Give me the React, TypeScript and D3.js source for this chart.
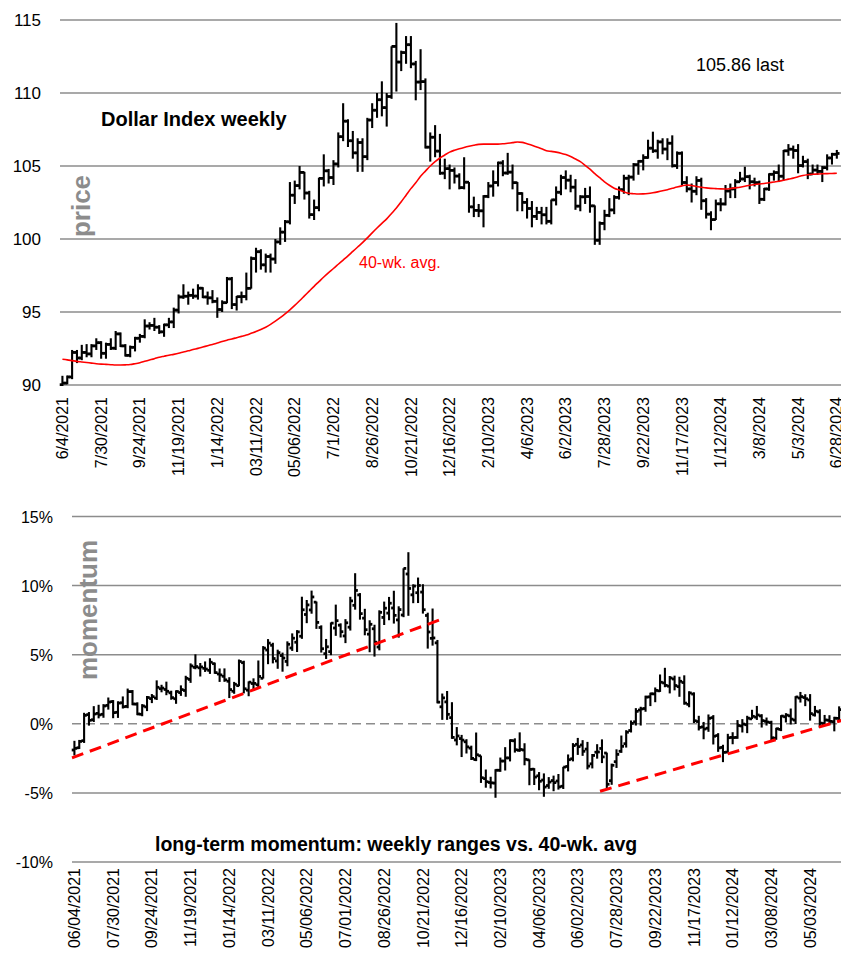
import React, { useRef, useEffect } from 'react';
import * as d3 from 'd3';

// weekly bars, 6/4/2021 .. 6/28/2024
const priceOpen = [
  90.02, 90.13, 90.55, 92.23, 91.85, 92.23, 92.13, 92.68, 92.90, 92.17,
  92.78, 92.52, 93.50, 92.68, 92.03, 92.58, 93.20, 93.33, 94.04, 94.08,
  93.96, 93.64, 94.12, 94.32, 95.13, 96.03, 96.08, 96.14, 96.09, 96.63,
  96.03, 95.97, 95.73, 95.17, 95.64, 97.27, 95.51, 96.05, 96.06, 96.62,
  98.66, 99.13, 98.23, 98.80, 98.63, 99.80, 100.47, 101.18, 103.00, 103.66,
  104.56, 103.15, 101.67, 102.15, 104.15, 104.67, 104.21, 105.14, 107.01, 108.07,
  106.73, 105.90, 106.61, 105.64, 108.15, 108.82, 109.54, 109.00, 109.76, 113.19,
  112.12, 112.77, 113.31, 111.99, 110.75, 110.78, 106.29, 106.97, 106.02, 104.51,
  104.82, 104.70, 104.31, 103.52, 103.89, 102.20, 101.96, 101.93, 102.92, 103.63,
  103.87, 105.21, 104.52, 104.58, 103.86, 103.12, 102.51, 102.09, 101.55, 101.82,
  101.66, 101.21, 102.68, 103.20, 104.21, 104.03, 103.55, 102.25, 102.89, 102.91,
  102.27, 99.91, 101.07, 101.62, 101.99, 102.85, 103.38, 104.16, 104.24, 105.09,
  105.32, 105.58, 106.22, 106.04, 106.65, 106.16, 106.56, 105.02, 105.87, 103.87,
  103.43, 103.27, 104.01, 102.62, 101.70, 101.33, 102.41, 102.40, 103.29, 103.43,
  103.92, 104.11, 104.27, 103.92, 103.86, 102.72, 103.43, 104.43, 104.55, 104.30,
  106.04, 106.15, 106.06, 105.03, 105.30, 104.45, 104.72, 104.63, 104.89, 105.55,
  105.80,
];
const priceHigh = [
  90.63, 90.65, 92.40, 92.40, 92.75, 92.80, 92.80, 93.20, 93.00, 92.90,
  93.20, 93.70, 93.60, 92.80, 92.70, 93.30, 93.50, 94.50, 94.30, 94.60,
  94.10, 94.20, 94.60, 95.30, 96.20, 96.90, 96.40, 96.60, 96.90, 96.70,
  96.40, 96.50, 96.00, 95.80, 97.40, 97.40, 96.10, 96.40, 97.70, 98.80,
  99.40, 99.30, 99.00, 99.00, 100.00, 100.80, 101.30, 103.90, 104.00, 105.00,
  104.60, 103.30, 102.70, 104.20, 105.80, 104.80, 105.40, 107.30, 109.30, 108.20,
  107.40, 106.90, 106.90, 108.30, 109.30, 110.00, 110.80, 110.00, 113.20, 114.80,
  112.90, 113.90, 113.90, 112.20, 113.00, 111.00, 107.30, 107.80, 107.20, 105.50,
  105.10, 104.90, 104.50, 105.60, 103.90, 102.90, 102.40, 103.00, 103.90, 104.70,
  105.30, 105.40, 105.90, 105.10, 103.90, 103.20, 102.80, 102.60, 102.20, 102.20,
  102.20, 102.70, 103.60, 104.40, 104.70, 104.40, 104.10, 103.00, 103.50, 103.60,
  102.30, 101.20, 102.00, 102.80, 103.00, 103.60, 104.40, 104.40, 105.20, 105.40,
  105.80, 106.80, 107.35, 106.80, 106.90, 106.90, 107.10, 106.00, 106.00, 104.30,
  103.80, 104.30, 104.20, 102.80, 101.90, 102.70, 102.80, 103.70, 103.80, 104.10,
  104.60, 104.95, 104.40, 104.20, 104.00, 103.50, 104.50, 104.70, 105.10, 106.10,
  106.50, 106.40, 106.50, 105.70, 105.50, 105.10, 105.10, 105.00, 105.80, 105.90,
  106.10,
];
const priceLow = [
  89.66, 90.05, 90.40, 91.50, 91.70, 91.90, 91.90, 92.40, 91.80, 91.80,
  92.40, 92.40, 92.60, 91.95, 91.90, 92.30, 92.90, 93.20, 93.80, 93.70,
  93.50, 93.30, 93.90, 93.90, 94.90, 95.90, 95.50, 95.90, 95.85, 95.95,
  95.50, 95.60, 94.60, 95.00, 95.60, 95.20, 95.10, 95.60, 95.80, 96.60,
  97.70, 97.90, 97.70, 97.70, 98.30, 99.60, 99.80, 101.00, 102.40, 103.40,
  102.70, 101.40, 101.30, 101.90, 103.60, 103.80, 103.70, 104.90, 106.70, 106.30,
  105.50, 104.60, 104.60, 105.40, 107.60, 108.30, 108.40, 107.70, 109.60, 110.10,
  111.50, 112.00, 111.70, 109.50, 110.20, 106.20, 105.30, 105.60, 104.40, 104.10,
  103.40, 103.80, 103.40, 103.40, 101.80, 101.50, 101.50, 100.80, 102.80, 102.90,
  103.60, 104.30, 104.40, 103.40, 101.90, 101.90, 101.40, 100.80, 101.30, 101.00,
  101.00, 101.00, 102.30, 103.00, 103.40, 103.20, 102.00, 101.90, 102.40, 101.80,
  99.60, 99.60, 100.60, 101.50, 101.70, 102.70, 103.10, 103.00, 104.00, 104.40,
  104.70, 105.50, 105.90, 105.50, 105.80, 105.40, 104.90, 104.80, 103.70, 103.20,
  102.50, 103.00, 102.00, 101.40, 100.60, 101.30, 101.90, 102.30, 102.80, 102.80,
  103.90, 103.90, 103.40, 103.60, 102.40, 102.60, 103.30, 104.00, 103.90, 104.00,
  105.70, 105.50, 104.50, 104.90, 104.10, 104.40, 104.40, 103.90, 104.70, 105.10,
  105.50,
];
const priceClose = [
  90.13, 90.55, 92.23, 91.85, 92.23, 92.13, 92.68, 92.90, 92.17, 92.78,
  92.52, 93.50, 92.68, 92.03, 92.58, 93.20, 93.33, 94.04, 94.08, 93.96,
  93.64, 94.12, 94.32, 95.13, 96.03, 96.08, 96.14, 96.09, 96.63, 96.03,
  95.97, 95.73, 95.17, 95.64, 97.27, 95.51, 96.05, 96.06, 96.62, 98.66,
  99.13, 98.23, 98.80, 98.63, 99.80, 100.47, 101.18, 103.00, 103.66, 104.56,
  103.15, 101.67, 102.15, 104.15, 104.67, 104.21, 105.14, 107.01, 108.07, 106.73,
  105.90, 106.61, 105.64, 108.15, 108.82, 109.54, 109.00, 109.76, 113.19, 112.12,
  112.77, 113.31, 111.99, 110.75, 110.78, 106.29, 106.97, 106.02, 104.51, 104.82,
  104.70, 104.31, 103.52, 103.89, 102.20, 101.96, 101.93, 102.92, 103.63, 103.87,
  105.21, 104.52, 104.58, 103.86, 103.12, 102.51, 102.09, 101.55, 101.82, 101.66,
  101.21, 102.68, 103.20, 104.21, 104.03, 103.55, 102.25, 102.89, 102.91, 102.27,
  99.91, 101.07, 101.62, 101.99, 102.85, 103.38, 104.16, 104.24, 105.09, 105.32,
  105.58, 106.22, 106.04, 106.65, 106.16, 106.56, 105.02, 105.87, 103.87, 103.43,
  103.27, 104.01, 102.62, 101.70, 101.33, 102.41, 102.40, 103.29, 103.43, 103.92,
  104.11, 104.27, 103.92, 103.86, 102.72, 103.43, 104.43, 104.55, 104.30, 106.04,
  106.15, 106.06, 105.03, 105.30, 104.45, 104.72, 104.63, 104.89, 105.55, 105.80,
  105.86,
];
// 40-week average
const avg40 = [
  91.76, 91.72, 91.67, 91.62, 91.58, 91.54, 91.50, 91.46, 91.43, 91.41,
  91.39, 91.37, 91.37, 91.38, 91.40, 91.46, 91.53, 91.62, 91.71, 91.80,
  91.90, 91.97, 92.04, 92.10, 92.17, 92.26, 92.34, 92.43, 92.51, 92.60,
  92.69, 92.78, 92.87, 92.98, 93.07, 93.15, 93.24, 93.33, 93.42, 93.54,
  93.66, 93.80, 93.96, 94.15, 94.37, 94.61, 94.87, 95.15, 95.45, 95.77,
  96.10, 96.43, 96.76, 97.08, 97.40, 97.70, 97.98, 98.27, 98.56, 98.85,
  99.15, 99.45, 99.75, 100.08, 100.42, 100.75, 101.07, 101.38, 101.75, 102.12,
  102.55, 103.00, 103.45, 103.85, 104.30, 104.65, 105.00, 105.30, 105.55, 105.75,
  105.95, 106.08, 106.18, 106.27, 106.35, 106.42, 106.48, 106.50, 106.50, 106.50,
  106.50, 106.52, 106.56, 106.60, 106.64, 106.62, 106.52, 106.42, 106.30, 106.18,
  106.05, 106.00, 105.95, 105.88, 105.78, 105.65, 105.48, 105.30, 105.05, 104.78,
  104.48, 104.20, 103.92, 103.68, 103.48, 103.35, 103.23, 103.13, 103.10, 103.08,
  103.09, 103.12, 103.17, 103.23, 103.30, 103.38, 103.47, 103.56, 103.64, 103.70,
  103.66, 103.60, 103.55, 103.50, 103.47, 103.45, 103.43, 103.42, 103.45, 103.50,
  103.55, 103.61, 103.68, 103.73, 103.77, 103.80, 103.85, 103.90, 103.95, 104.02,
  104.10, 104.17, 104.26, 104.35, 104.40, 104.43, 104.45, 104.47, 104.48, 104.49,
  104.50,
];

const topTickLabels = [
  '6/4/2021', '7/30/2021', '9/24/2021', '11/19/2021', '1/14/2022', '03/11/2022',
  '05/06/2022', '7/1/2022', '8/26/2022', '10/21/2022', '12/16/2022', '2/10/2023',
  '4/6/2023', '6/2/2023', '7/28/2023', '9/22/2023', '11/17/2023', '1/12/2024',
  '3/8/2024', '5/3/2024', '6/28/2024',
];
const bottomTickLabels = [
  '06/04/2021', '07/30/2021', '09/24/2021', '11/19/2021', '01/14/2022', '03/11/2022',
  '05/06/2022', '07/01/2022', '08/26/2022', '10/21/2022', '12/16/2022', '02/10/2023',
  '04/06/2023', '06/02/2023', '07/28/2023', '09/22/2023', '11/17/2023', '01/12/2024',
  '03/08/2024', '05/03/2024',
];
const priceTicks = [90, 95, 100, 105, 110, 115];
const momentumTicks = [-10, -5, 0, 5, 10, 15];
// hand-drawn trend lines on the momentum panel: [week index, %]
const trendLow1 = [[-0.5, -2.47], [75.5, 7.53]];
const trendLow2 = [[108.6, -4.88], [162, 0.6]];

const FONT = 'Liberation Sans, Arial, sans-serif';

const App = () => {
  const svgRef = useRef<SVGSVGElement>(null);

  useEffect(() => {
    document.body.style.margin = '0';
    const w = 841;
    const h = 953;
    const n = priceClose.length;
    const bw = 4.84;
    const svg = d3.select(svgRef.current).attr('width', w).attr('height', h);
    svg.selectAll('*').remove();

    // ---------- price panel ----------
    const x1 = d3.scaleLinear().domain([-0.5, n - 0.5]).range([60, 60 + n * bw]);
    const y1 = d3.scaleLinear().domain([90, 115]).range([385, 20]);

    const top = svg.append('g');
    top.selectAll('.grid')
      .data(priceTicks)
      .join('line')
      .attr('x1', 60).attr('x2', w)
      .attr('y1', (d) => y1(d)).attr('y2', (d) => y1(d))
      .attr('stroke', '#8c8c8c').attr('stroke-width', 1.5);
    top.selectAll('.ylab')
      .data(priceTicks)
      .join('text')
      .attr('x', 41).attr('y', (d) => y1(d) + 6)
      .attr('text-anchor', 'end')
      .style('font', `17px ${FONT}`)
      .text((d) => d);

    top.append('clipPath').attr('id', 'clipTop')
      .append('rect').attr('x', 55).attr('y', 0).attr('width', w).attr('height', 386);

    const drawBars = (g, xs, ys, o, hi, lo, c) => {
      const idx = d3.range(o.length);
      g.selectAll('.hl').data(idx).join('line')
        .attr('x1', (i) => xs(i)).attr('x2', (i) => xs(i))
        .attr('y1', (i) => ys(hi[i])).attr('y2', (i) => ys(lo[i]))
        .attr('stroke', '#000').attr('stroke-width', 2.1);
      g.selectAll('.op').data(idx).join('line')
        .attr('x1', (i) => xs(i) - 2.7).attr('x2', (i) => xs(i))
        .attr('y1', (i) => ys(o[i])).attr('y2', (i) => ys(o[i]))
        .attr('stroke', '#000').attr('stroke-width', 2.8);
      g.selectAll('.cl').data(idx).join('line')
        .attr('x1', (i) => xs(i)).attr('x2', (i) => xs(i) + 2.7)
        .attr('y1', (i) => ys(c[i])).attr('y2', (i) => ys(c[i]))
        .attr('stroke', '#000').attr('stroke-width', 2.8);
    };

    const barsTop = top.append('g').attr('clip-path', 'url(#clipTop)');
    drawBars(barsTop.append('g'), x1, y1, priceOpen, priceHigh, priceLow, priceClose);

    const avgLine = d3.line<number>().x((d, i) => x1(i)).y((d) => y1(d)).curve(d3.curveMonotoneX);
    top.append('path').datum(avg40)
      .attr('d', avgLine)
      .attr('fill', 'none').attr('stroke', '#ff0000').attr('stroke-width', 1.6);

    top.selectAll('.xlab')
      .data(topTickLabels)
      .join('text')
      .attr('transform', (d, k) => `translate(${x1(k * 8)},397) rotate(-90)`)
      .attr('dy', '0.35em')
      .attr('text-anchor', 'end')
      .style('font', `16px ${FONT}`)
      .text((d) => d);

    top.append('text').attr('x', 101).attr('y', 126)
      .style('font', `bold 20px ${FONT}`).text('Dollar Index weekly');
    top.append('text').attr('x', 696).attr('y', 71)
      .style('font', `18px ${FONT}`).text('105.86 last');
    top.append('text').attr('x', 359).attr('y', 268)
      .attr('fill', '#ff0000')
      .style('font', `16px ${FONT}`).text('40-wk. avg.');
    top.append('text')
      .attr('transform', 'translate(90,206) rotate(-90)')
      .attr('text-anchor', 'middle')
      .attr('fill', '#8c8c8c')
      .style('font', `bold 26px ${FONT}`).text('price');

    // ---------- momentum panel ----------
    const x2 = d3.scaleLinear().domain([-0.5, n - 0.5]).range([72, 72 + n * bw]);
    const y2 = d3.scaleLinear().domain([-10, 15]).range([862, 516.5]);
    const pct = (arr) => arr.map((v, i) => (v / avg40[i] - 1) * 100);

    const bot = svg.append('g');
    bot.selectAll('.grid')
      .data(momentumTicks)
      .join('line')
      .attr('x1', 72).attr('x2', w)
      .attr('y1', (d) => y2(d)).attr('y2', (d) => y2(d))
      .attr('stroke', '#8c8c8c').attr('stroke-width', 1.5)
      .attr('stroke-dasharray', (d) => (d === 0 ? '9,5' : null));
    bot.selectAll('.ylab')
      .data(momentumTicks)
      .join('text')
      .attr('x', 53).attr('y', (d) => y2(d) + 6)
      .attr('text-anchor', 'end')
      .style('font', `16px ${FONT}`)
      .text((d) => `${d}%`);

    drawBars(bot.append('g'), x2, y2, pct(priceOpen), pct(priceHigh), pct(priceLow), pct(priceClose));

    const trend = d3.line<number[]>().x((d) => x2(d[0])).y((d) => y2(d[1]));
    [trendLow1, trendLow2].forEach((t) => {
      bot.append('path').datum(t)
        .attr('d', trend)
        .attr('fill', 'none').attr('stroke', '#ff0000')
        .attr('stroke-width', 3).attr('stroke-dasharray', '12,7');
    });

    bot.selectAll('.xlab')
      .data(bottomTickLabels)
      .join('text')
      .attr('transform', (d, k) => `translate(${x2(k * 8)},868) rotate(-90)`)
      .attr('dy', '0.35em')
      .attr('text-anchor', 'end')
      .style('font', `16px ${FONT}`)
      .text((d) => d);

    bot.append('text').attr('x', 155).attr('y', 851)
      .style('font', `bold 19.5px ${FONT}`)
      .text('long-term momentum: weekly ranges vs. 40-wk. avg');
    bot.append('text')
      .attr('transform', 'translate(97,610) rotate(-90)')
      .attr('text-anchor', 'middle')
      .attr('fill', '#8c8c8c')
      .style('font', `bold 26px ${FONT}`).text('momentum');
  }, []);

  return (
    <div>
      <svg ref={svgRef} style={{ display: 'block' }}></svg>
    </div>
  );
};

export default App;
